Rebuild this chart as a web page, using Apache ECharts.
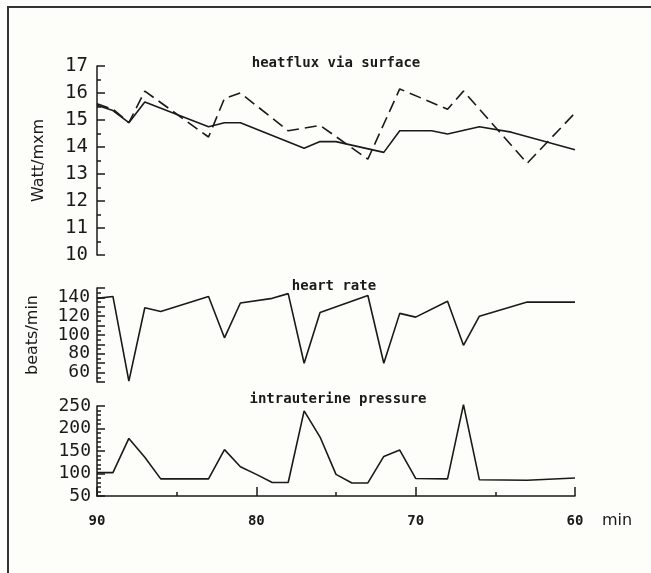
<!DOCTYPE html>
<html>
<head>
<meta charset="utf-8">
<script src="https://cdn.jsdelivr.net/npm/echarts@6/dist/echarts.min.js"></script>
<style>
  html, body { margin: 0; padding: 0; background: #fdfdf9; }
  #chart { width: 651px; height: 573px; }
</style>
</head>
<body>
<div id="chart"></div>
<script>
// heatflux via surface (Watt/mxm), solid and dashed traces
const fluxSolidMin = [90, 89, 88, 87, 83, 82, 81, 77, 76, 75, 72, 71, 69, 68, 66, 64, 60];
const fluxSolidVal = [15.55, 15.35, 14.9, 15.67, 14.75, 14.9, 14.9, 13.95, 14.2, 14.2, 13.8, 14.6, 14.6, 14.48, 14.75, 14.55, 13.9];
const fluxDashMin = [90, 89, 88, 87, 83, 82, 81, 78, 76, 73, 71, 68, 67, 63, 60];
const fluxDashVal = [15.6, 15.4, 14.9, 16.07, 14.37, 15.8, 16.0, 14.6, 14.8, 13.55, 16.15, 15.4, 16.07, 13.4, 15.26];

// heart rate (beats/min)
const hrMin = [90, 89, 88, 87, 86, 83, 82, 81, 79, 78, 77, 76, 73, 72, 71, 70, 68, 67, 66, 65, 63, 60];
const hrVal = [139, 141, 51, 129, 125, 141, 97, 134, 139, 144, 70, 124, 142, 70, 123, 119, 136, 89, 120, 125, 135, 135];

// intrauterine pressure
const ipMin = [90, 89, 88, 87, 86, 83, 82, 81, 80, 79, 78, 77, 76, 75, 74, 73, 72, 71, 70, 68, 67, 66, 63, 60];
const ipVal = [102, 102, 178, 136, 88, 88, 153, 115, 98, 80, 80, 239, 181, 98, 79, 79, 138, 152, 89, 88, 253, 86, 85, 90];

const titles = ['heatflux via surface', 'heart rate', 'intrauterine pressure'];

const zip = (xs, ys) => xs.map((x, i) => [x, ys[i]]);

const ink = '#1a1a1a';
const mono = 'DejaVu Sans Mono';

function xAxisFor(idx, visible) {
    return {
        gridIndex: idx,
        type: 'value',
        min: 60,
        max: 90,
        interval: 10,
        inverse: true,
        show: visible,
        axisLine: {show: visible, lineStyle: {color: ink, width: 1.5}},
        axisTick: {show: visible, inside: true, length: 9, lineStyle: {color: ink, width: 1.5}},
        minorTick: {show: visible, splitNumber: 2, length: 4, lineStyle: {color: ink, width: 1.5}},
        axisLabel: {show: visible, margin: 18, color: ink, fontFamily: mono, fontWeight: 'bold', fontSize: 14},
        splitLine: {show: false}
    };
}

function yAxisFor(idx, opts) {
    return Object.assign({
        gridIndex: idx,
        type: 'value',
        axisLine: {show: true, lineStyle: {color: ink, width: 1.5}},
        axisTick: {show: true, inside: true, length: 8, lineStyle: {color: ink, width: 1.5}},
        minorTick: {show: true, length: 4, lineStyle: {color: ink, width: 1.5}},
        splitLine: {show: false},
        nameLocation: 'middle',
        nameRotate: 90,
        nameTextStyle: {color: ink, fontFamily: 'DejaVu Sans', fontSize: 16}
    }, opts);
}

const lineBase = {
    type: 'line',
    symbol: 'none',
    clip: false,
    animation: false
};

const option = {
    backgroundColor: '#fdfdf9',
    animation: false,
    title: [
        {text: titles[0], left: 331, top: 51, textAlign: 'center'},
        {text: titles[1], left: 329, top: 274, textAlign: 'center'},
        {text: titles[2], left: 333, top: 387, textAlign: 'center'}
    ].map(t => Object.assign(t, {
        textStyle: {color: ink, fontFamily: mono, fontSize: 14, fontWeight: 'bold'}
    })),
    grid: [
        {left: 97, top: 66, width: 478, height: 189},
        {left: 97, top: 288, width: 478, height: 94},
        {left: 97, top: 406, width: 478, height: 90}
    ],
    xAxis: [xAxisFor(0, false), xAxisFor(1, false), xAxisFor(2, true)],
    yAxis: [
        yAxisFor(0, {
            min: 10, max: 17, interval: 1,
            minorTick: {show: true, splitNumber: 2, length: 4, lineStyle: {color: ink, width: 1.5}},
            axisLabel: {margin: 9, color: ink, fontFamily: mono, fontSize: 19},
            name: 'Watt/mxm', nameGap: 50
        }),
        yAxisFor(1, {
            min: 50, max: 150, interval: 10,
            minorTick: {show: true, splitNumber: 2, length: 4, lineStyle: {color: ink, width: 1.5}},
            axisLabel: {
                margin: 7, color: ink, fontFamily: mono, fontSize: 18,
                formatter: v => (v >= 60 && v <= 140 && v % 20 === 0) ? String(v) : ''
            },
            name: 'beats/min', nameGap: 56
        }),
        yAxisFor(2, {
            min: 50, max: 250, interval: 50,
            minorTick: {show: true, splitNumber: 5, length: 4, lineStyle: {color: ink, width: 1.5}},
            axisLabel: {margin: 6, color: ink, fontFamily: mono, fontSize: 18}
        })
    ],
    series: [
        Object.assign({}, lineBase, {
            name: 'flux solid', xAxisIndex: 0, yAxisIndex: 0,
            data: zip(fluxSolidMin, fluxSolidVal),
            lineStyle: {color: ink, width: 1.6}
        }),
        Object.assign({}, lineBase, {
            name: 'flux dashed', xAxisIndex: 0, yAxisIndex: 0,
            data: zip(fluxDashMin, fluxDashVal),
            lineStyle: {color: ink, width: 1.6, type: [12, 6]}
        }),
        Object.assign({}, lineBase, {
            name: 'heart rate', xAxisIndex: 1, yAxisIndex: 1,
            data: zip(hrMin, hrVal),
            lineStyle: {color: ink, width: 1.6}
        }),
        Object.assign({}, lineBase, {
            name: 'pressure', xAxisIndex: 2, yAxisIndex: 2,
            data: zip(ipMin, ipVal),
            lineStyle: {color: ink, width: 1.6}
        })
    ],
    graphic: [
        {
            type: 'polyline',
            shape: {points: [[8, 573], [8, 7], [651, 7]]},
            style: {fill: null, stroke: '#333', lineWidth: 2},
            silent: true
        },
        {
            type: 'text',
            left: 602, top: 513,
            style: {text: 'min', fill: ink, font: '16px "DejaVu Sans"'}
        }
    ]
};

const chart = echarts.init(document.getElementById('chart'));
chart.setOption(option);
</script>
</body>
</html>
